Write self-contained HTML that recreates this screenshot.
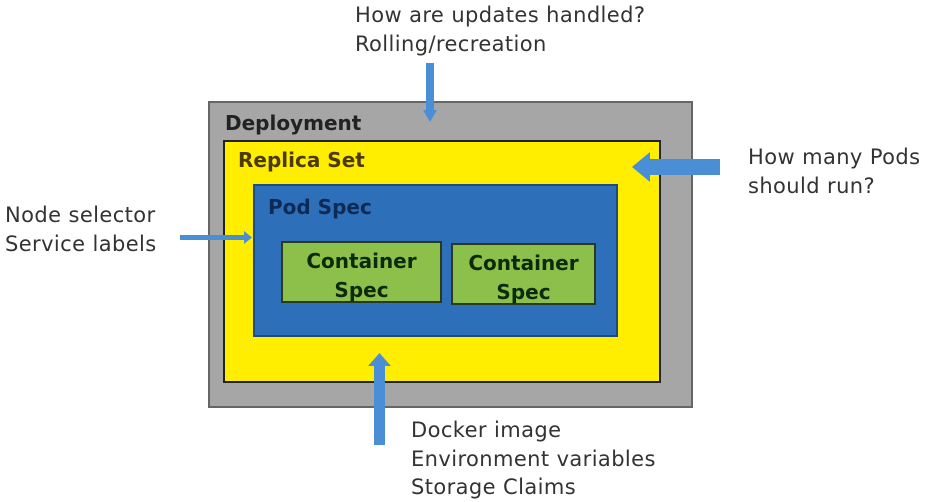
<!DOCTYPE html>
<html><head><meta charset="utf-8"><style>
body{margin:0;width:930px;height:501px;background:#fff;position:relative;overflow:hidden;font-family:"DejaVu Sans","Liberation Sans",sans-serif;}
.b{position:absolute;box-sizing:border-box;}
.t{position:absolute;color:#333;font-size:21px;letter-spacing:0.4px;line-height:28.5px;white-space:nowrap;}
.l{position:absolute;font-weight:bold;font-size:20px;white-space:nowrap;}
</style></head><body>
<div class="b" style="left:208px;top:101px;width:485px;height:307px;background:#a6a6a6;border:2px solid #666;"></div>
<div class="b" style="left:223px;top:140px;width:438px;height:243px;background:#ffee00;border:2px solid #222;"></div>
<div class="b" style="left:253px;top:184px;width:365px;height:153px;background:#2e6fba;border:2px solid #1d4a80;"></div>
<div class="b" style="left:281px;top:241px;width:161px;height:62px;background:#8cc04a;border:2px solid #2a3a20;"></div>
<div class="b" style="left:451px;top:243px;width:145px;height:62px;background:#8cc04a;border:2px solid #2a3a20;"></div>
<div class="l" style="left:225px;top:111px;color:#222;">Deployment</div>
<div class="l" style="left:238px;top:148px;color:#4a3a00;">Replica Set</div>
<div class="l" style="left:268px;top:195px;color:#0d2a55;">Pod Spec</div>
<div class="l" style="left:281px;top:247px;width:161px;text-align:center;color:#0d2a0d;line-height:29px;">Container<br>Spec</div>
<div class="l" style="left:451px;top:249px;width:145px;text-align:center;color:#0d2a0d;line-height:29px;">Container<br>Spec</div>
<svg width="930" height="501" style="position:absolute;left:0;top:0">
<g fill="#4a8fd6">
<rect x="426" y="63" width="8" height="50"/><polygon points="423,110 437,110 430,122"/>
<rect x="650" y="159" width="70" height="16"/><polygon points="650,152 650,182 632,167"/>
<rect x="180" y="235" width="66" height="5"/><polygon points="244,231 244,244 252,237.5"/>
<rect x="374" y="363" width="11" height="82"/><polygon points="368,366 391,366 379.5,353"/>
</g></svg>
<div class="t" style="left:355px;top:1px;">How are updates handled?<br>Rolling/recreation</div>
<div class="t" style="left:748px;top:143px;">How many Pods<br>should run?</div>
<div class="t" style="left:5px;top:201px;">Node selector<br>Service labels</div>
<div class="t" style="left:411px;top:416px;">Docker image<br>Environment variables<br>Storage Claims</div>
</body></html>
